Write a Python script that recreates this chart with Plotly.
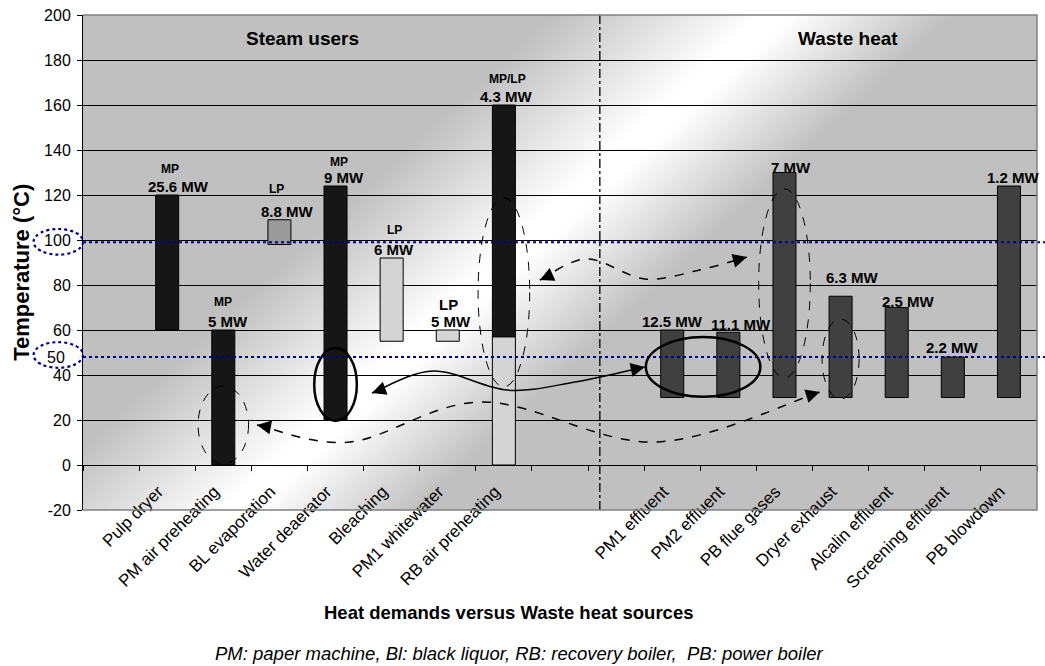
import base64
import math
import plotly.graph_objects as go

# ---- data -------------------------------------------------------------
categories = [" ", "Pulp dryer", "PM air preheating", "BL evaporation", "Water deaerator",
              "Bleaching", "PM1 whitewater", "RB air preheating", "  ", "   ",
              "PM1 effluent", "PM2 effluent", "PB flue gases", "Dryer exhaust",
              "Alcalin effluent", "Screening effluent", "PB blowdown"]

y_ticks = [-20, 0, 20, 40, 60, 80, 100, 120, 140, 160, 180, 200]
y_tick_text = ["-20", "0", "20", "40", "60", "80", "100", "120", "140", "160", "180", "200"]

# steam users, MP steam part (black)
mp_users = ["Pulp dryer", "PM air preheating", "Water deaerator", "RB air preheating"]
mp_low = [60, 0, 20, 57]
mp_high = [120, 60, 124, 160]

# black liquor evaporation (mid gray)
bl_users = ["BL evaporation"]
bl_low = [98]
bl_high = [109]

# LP / low temperature part (light gray)
lp_users = ["Bleaching", "PM1 whitewater", "RB air preheating"]
lp_low = [55, 55, 0]
lp_high = [92, 60, 57]

steam_users = ["Pulp dryer", "PM air preheating", "BL evaporation", "Water deaerator",
               "Bleaching", "PM1 whitewater", "RB air preheating"]
steam_mw = ["25.6 MW", "5 MW", "8.8 MW", "9 MW", "6 MW", "5 MW", "4.3 MW"]
steam_level = ["MP", "MP", "LP", "MP", "LP", "LP", "MP/LP"]

waste_sources = ["PM1 effluent", "PM2 effluent", "PB flue gases", "Dryer exhaust",
                 "Alcalin effluent", "Screening effluent", "PB blowdown"]
waste_low = [30, 30, 30, 30, 30, 30, 30]
waste_high = [60, 59, 130, 75, 70, 48, 124]
waste_mw = ["12.5 MW", "11.1 MW", "7 MW", "6.3 MW", "2.5 MW", "2.2 MW", "1.2 MW"]

# ---- layout helpers ---------------------------------------------------
FONT = "Liberation Sans, Arial, sans-serif"
N = len(categories)
Y0, Y1 = -20, 200
W, H = 1045, 666
ML, MR, MT, MB = 83, 8, 15, 156
PW, PH = W - ML - MR, H - MT - MB
BAR_W = 0.41


def fx(i):
    return (i + 0.5) / N


def fy(t):
    return (t - Y0) / (Y1 - Y0)


def pos(name):
    return categories.index(name)


tops = {}
for names, highs in ((mp_users, mp_high), (bl_users, bl_high), (lp_users, lp_high)):
    for n, h in zip(names, highs):
        tops[n] = max(tops.get(n, h), h)


def bar(names, low, high, color):
    return go.Bar(x=names, y=[h - l for l, h in zip(low, high)], base=low,
                  width=BAR_W, marker=dict(color=color, line=dict(color="#000000", width=1)),
                  showlegend=False, hoverinfo="skip")


def bold(size):
    return dict(size=size, color="#000000", family=FONT, weight="bold")


fig = go.Figure()
fig.add_trace(go.Scatter(x=categories, y=[None] * N, showlegend=False, hoverinfo="skip"))
fig.add_trace(bar(lp_users, lp_low, lp_high, "#d4d4d4"))
fig.add_trace(bar(mp_users, mp_low, mp_high, "#161616"))
fig.add_trace(bar(bl_users, bl_low, bl_high, "#9a9a9a"))
fig.add_trace(bar(waste_sources, waste_low, waste_high, "#404040"))

ann = []
# value labels
steam_dx = [11, 5, 8, 8, 2, 3, 3]
level_dx = [3, 0, -3, 3, 3, 1, 4]
level_dy = [18, 20, 23, 16, 20, 17, 18]
for k, name in enumerate(steam_users):
    ann.append(dict(x=name, y=tops[name], xref="x", yref="y", text=steam_mw[k],
                    showarrow=False, xanchor="center", yanchor="bottom",
                    xshift=steam_dx[k], yshift=-2, font=bold(15)))
    big = name == "PM1 whitewater"
    ann.append(dict(x=name, y=tops[name], xref="x", yref="y", text=steam_level[k],
                    showarrow=False, xanchor="center", yanchor="bottom", xshift=level_dx[k],
                    yshift=-2 + level_dy[k] + (0 if big else 1),
                    font=bold(15 if big else 12)))
waste_dx = [0, 13, 7, 12, 12, 0, 5]
waste_dy = [3, 2, 0, 13, 1, 4, 3]
for k, name in enumerate(waste_sources):
    ann.append(dict(x=name, y=waste_high[k], xref="x", yref="y", text=waste_mw[k],
                    showarrow=False, xanchor="center", yanchor="bottom",
                    xshift=waste_dx[k], yshift=-5 + waste_dy[k], font=bold(15)))

# section titles, axis titles, footnote
ann += [
    dict(x=0.2306, y=0.9535, text="Steam users", font=bold(19)),
    dict(x=0.8014, y=0.9535, text="Waste heat", font=bold(19)),
    dict(x=-0.064, y=0.481, text="Temperature (°C)", textangle=-90, font=bold(22)),
    dict(x=0.4455, y=-0.208, text="Heat demands versus Waste heat sources", font=bold(18.5)),
    dict(x=0.458, y=-0.289,
         text="PM: paper machine, Bl: black liquor, RB: recovery boiler,\u00a0 PB: power boiler",
         font=dict(size=18.5, color="#000000", family=FONT, style="italic")),
]
for a in ann[-5:]:
    a.update(xref="paper", yref="paper", showarrow=False, xanchor="center", yanchor="middle")
ann.append(dict(x=-0.0283, y=48, xref="paper", yref="y", text="50", showarrow=False,
                xanchor="center", yanchor="middle",
                font=dict(size=16, color="#000000", family=FONT)))

shapes = []
# reference temperature lines
for t in (99, 48):
    shapes.append(dict(type="line", xref="paper", yref="paper", x0=0, x1=1.01, y0=fy(t), y1=fy(t),
                       line=dict(color="#00008b", width=2.2, dash="dot"), layer="above"))
# dotted ellipses around 100 / 50 labels
for t in (99.2, 48.9):
    shapes.append(dict(type="circle", xref="paper", yref="paper",
                       x0=fx(-1.38), x1=fx(-0.5), y0=fy(t - 5.7), y1=fy(t + 5.7),
                       line=dict(color="#00008b", width=2.2, dash="dot"), layer="above"))
# divider between steam users and waste heat
shapes.append(dict(type="line", xref="paper", yref="paper", x0=fx(8.71), x1=fx(8.71), y0=0, y1=1,
                   line=dict(color="#000000", width=1.3, dash="dashdot"), layer="above"))

# callout ellipses: (centre, temperature centre, half width, half height, dash, width)
pm12 = (pos("PM1 effluent") + pos("PM2 effluent")) / 2 + 0.05
callouts = [
    (pos("PM air preheating"), 17.8, 0.45, 17.3, "dash", 1),
    (pos("Water deaerator"), 35.8, 0.38, 16.2, "solid", 2.5),
    (pos("RB air preheating"), 76.7, 0.46, 42.0, "dash", 1),
    (pm12, 43.6, 1.02, 13.3, "solid", 2.5),
    (pos("PB flue gases"), 80.7, 0.46, 42.0, "dash", 1),
    (pos("Dryer exhaust"), 47.1, 0.33, 17.8, "dash", 1),
]
for cx, cy, rx, ry, dash, lw in callouts:
    shapes.append(dict(type="circle", xref="paper", yref="paper",
                       x0=fx(cx - rx), x1=fx(cx + rx), y0=fy(cy - ry), y1=fy(cy + ry),
                       line=dict(color="#000000", width=lw, dash=dash), layer="above"))

# curved double-headed arrows
curves = [
    ([(7.64, 82.2), (8.48, 91.6), (9.51, 82.7), (10.49, 86.7), (11.33, 92.4)], "dash"),
    ([(4.65, 32.0), (5.74, 41.8), (7.06, 33.3), (8.27, 36.9), (9.51, 43.6)], "solid"),
    ([(2.60, 17.8), (4.26, 10.2), (6.63, 28.0), (9.69, 10.2), (12.63, 32.4)], "dash"),
]


def smooth_path(pts):
    p = [(fx(a), fy(b)) for a, b in pts]
    ext = [p[0]] + p + [p[-1]]
    d = "M %.5f,%.5f" % p[0]
    for i in range(1, len(ext) - 2):
        p0, p1, p2, p3 = ext[i - 1], ext[i], ext[i + 1], ext[i + 2]
        c1 = (p1[0] + (p2[0] - p0[0]) / 6, p1[1] + (p2[1] - p0[1]) / 6)
        c2 = (p2[0] - (p3[0] - p1[0]) / 6, p2[1] - (p3[1] - p1[1]) / 6)
        d += " C %.5f,%.5f %.5f,%.5f %.5f,%.5f" % (c1 + c2 + p2)
    return d


def head(tip, prev):
    dx = (tip[0] - prev[0]) * PW / N
    dy = -(tip[1] - prev[1]) * PH / (Y1 - Y0)
    n = math.hypot(dx, dy)
    return dict(x=fx(tip[0]), y=fy(tip[1]), xref="paper", yref="paper", text="",
                showarrow=True, ax=-dx / n * 12, ay=-dy / n * 12, arrowhead=2,
                arrowsize=2.0, arrowwidth=1.4, arrowcolor="#000000", standoff=0)


for pts, dash in curves:
    shapes.append(dict(type="path", xref="paper", yref="paper", path=smooth_path(pts),
                       line=dict(color="#000000", width=1.5, dash=dash), layer="above"))
    ann.append(head(pts[0], pts[1]))
    ann.append(head(pts[-1], pts[-2]))

# plot frame (top, right, bottom)
shapes.append(dict(type="path", xref="paper", yref="paper", path="M 0,0 H 1 V 1 H 0",
                   line=dict(color="#808080", width=1.5), layer="above"))

# gray background with diagonal white sheen
svg = ('<svg xmlns="http://www.w3.org/2000/svg" width="%d" height="%d" viewBox="0 0 %d %d" '
       'preserveAspectRatio="none"><defs><linearGradient id="g" gradientUnits="userSpaceOnUse" '
       'x1="216" y1="234" x2="399" y2="433"><stop offset="0" stop-color="#c0c0c0"/>'
       '<stop offset="0.52" stop-color="#ffffff"/><stop offset="0.6" stop-color="#ffffff"/>'
       '<stop offset="1" stop-color="#c0c0c0"/></linearGradient></defs>'
       '<rect width="%d" height="%d" fill="url(#g)"/></svg>') % (PW, PH, PW, PH, PW, PH)
bg = "data:image/svg+xml;base64," + base64.b64encode(svg.encode()).decode()

fig.update_layout(
    width=W, height=H,
    margin=dict(l=ML, r=MR, t=MT, b=MB, autoexpand=False),
    paper_bgcolor="#ffffff", plot_bgcolor="#c0c0c0",
    barmode="overlay",
    font=dict(family=FONT, color="#000000"),
    images=[dict(source=bg, xref="paper", yref="paper", x=0, y=1, sizex=1, sizey=1,
                 sizing="stretch", xanchor="left", yanchor="top", layer="below")],
    xaxis=dict(type="category", categoryorder="array", categoryarray=categories,
               range=[-0.5, N - 0.5], anchor="free", position=fy(0),
               showline=True, linecolor="#000000", linewidth=1,
               ticks="outside", ticklen=5, tickcolor="#000000", tickson="boundaries",
               tickangle=-45, tickfont=dict(size=17, family=FONT, color="#000000"),
               ticklabelshift=-9, ticklabelstandoff=9,
               showgrid=False, zeroline=False),
    yaxis=dict(range=[Y0, Y1], tickvals=y_ticks, ticktext=y_tick_text,
               showline=True, linecolor="#000000",
               linewidth=1, ticks="outside", ticklen=5, tickcolor="#000000",
               tickfont=dict(size=16, family=FONT, color="#000000"), ticklabelstandoff=3,
               showgrid=True, gridcolor="#000000", gridwidth=1, zeroline=False),
    annotations=ann,
    shapes=shapes,
)

fig.write_html("out.html", config={"displayModeBar": False},
               post_script="document.body.style.margin='0';")
